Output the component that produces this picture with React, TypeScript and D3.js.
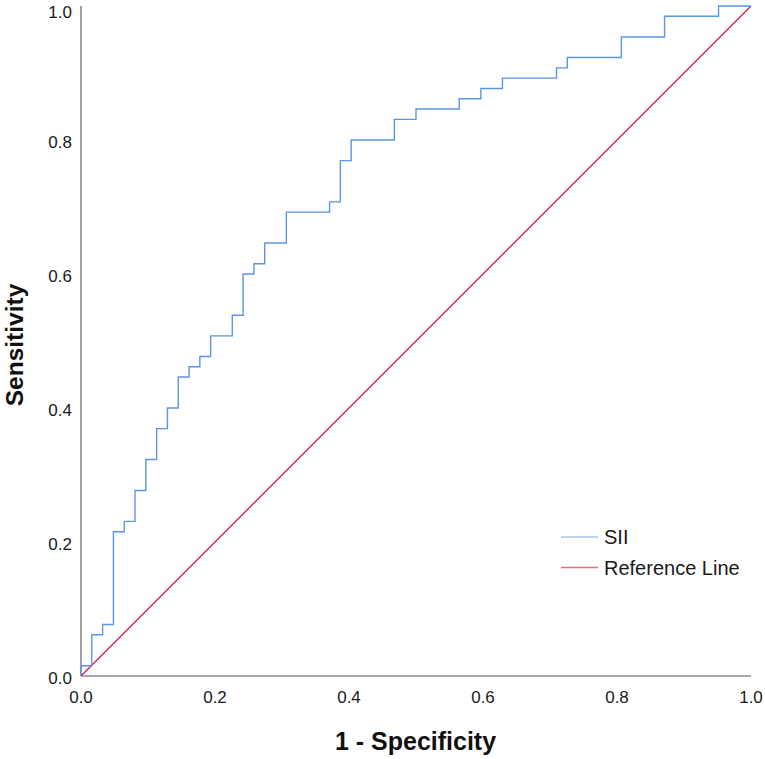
import React from "react";
import * as d3 from "d3";

const fpr = [0, 0, 0.0161, 0.0323, 0.0484, 0.0645, 0.0806, 0.0968, 0.1129, 0.129, 0.1452, 0.1613, 0.1774, 0.1935, 0.2258, 0.2419, 0.2581, 0.2742, 0.3065, 0.371, 0.3871, 0.4032, 0.4677, 0.5, 0.5645, 0.5968, 0.629, 0.7097, 0.7258, 0.8065, 0.871, 0.9516, 1];
const tpr = [0, 0.0154, 0.0615, 0.0769, 0.2154, 0.2308, 0.2769, 0.3231, 0.3692, 0.4, 0.4462, 0.4615, 0.4769, 0.5077, 0.5385, 0.6, 0.6154, 0.6462, 0.6923, 0.7077, 0.7692, 0.8, 0.8308, 0.8462, 0.8615, 0.8769, 0.8923, 0.9077, 0.9231, 0.9538, 0.9846, 1, 1];
const refLine = [0, 1];
const ticks = [0, 0.2, 0.4, 0.6, 0.8, 1.0];
const seriesNames = ["SII", "Reference Line"];

const W = 765;
const H = 759;
const FONT = "'Liberation Sans', Arial, sans-serif";
const BLUE = "#5b96e4";
const RED = "#e21f4c";

export default function App() {
  const x = d3.scaleLinear().domain([0, 1]).range([81, 751]);
  const y = d3.scaleLinear().domain([0, 1]).range([676, 6]);
  const pts: [number, number][] = fpr.map((f, i) => [f, tpr[i]]);
  const roc = d3
    .line<[number, number]>()
    .x((d) => x(d[0]))
    .y((d) => y(d[1]))
    .curve(d3.curveStepAfter)(pts) as string;
  const ref = d3
    .line<number>()
    .x((d) => x(d))
    .y((d) => y(d))(refLine) as string;

  return (
    <svg
      width={W}
      height={H}
      style={{ position: "absolute", left: 0, top: 0, background: "#fff" }}
      fontFamily={FONT}
    >
      <rect width={W} height={H} fill="#fff" />
      {/* axes */}
      <line x1={x(0)} x2={x(0)} y1={y(0)} y2={y(1)} stroke="#8a8a8a" strokeWidth={1.6} />
      <line x1={x(0)} x2={x(1)} y1={y(0)} y2={y(0)} stroke="#8a8a8a" strokeWidth={1.6} />
      {ticks.map((t) => (
        <text key={"y" + t} x={72} y={Math.max(y(t) + 2, 12)} textAnchor="end" dominantBaseline="central" fontSize={17} fill="#1a1a1a">
          {t.toFixed(1)}
        </text>
      ))}
      {ticks.map((t) => (
        <text key={"x" + t} x={x(t)} y={703} textAnchor="middle" fontSize={17} fill="#1a1a1a">
          {t.toFixed(1)}
        </text>
      ))}
      {/* reference line */}
      <path d={ref} fill="none" stroke={RED} strokeWidth={1.4} />
      {/* ROC */}
      <path d={roc} fill="none" stroke={BLUE} strokeWidth={1.4} />
      {/* legend */}
      <line x1={561} x2={598} y1={537} y2={537} stroke="#a8c7f0" strokeWidth={1.6} />
      <line x1={561} x2={598} y1={567.5} y2={567.5} stroke="#ec6c88" strokeWidth={1.6} />
      <text x={604} y={537} dominantBaseline="central" fontSize={20} fill="#1a1a1a">{seriesNames[0]}</text>
      <text x={604} y={567.5} dominantBaseline="central" fontSize={20} fill="#1a1a1a">{seriesNames[1]}</text>
      {/* axis titles */}
      <text x={415.5} y={750} textAnchor="middle" fontSize={25} fontWeight="bold" fill="#111">
        1 - Specificity
      </text>
      <text
        transform={`translate(23,345) rotate(-90)`}
        textAnchor="middle"
        fontSize={24.5}
        fontWeight="bold"
        fill="#111"
      >
        Sensitivity
      </text>
    </svg>
  );
}
